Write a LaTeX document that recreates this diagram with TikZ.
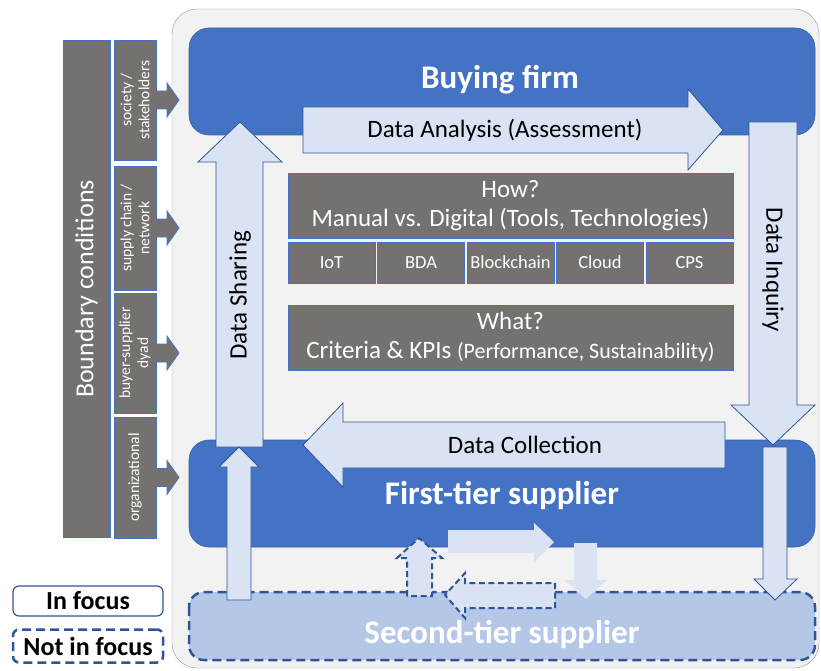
\documentclass[tikz,border=0pt]{standalone}
\usepackage{fontspec}
\setmainfont{Carlito}

\definecolor{firmblue}{HTML}{4472C4}
\definecolor{darkblue}{HTML}{2F5597}
\definecolor{arrowfill}{HTML}{DAE3F3}
\definecolor{tierfill}{HTML}{B4C7E7}
\definecolor{boxgrey}{HTML}{767171}
\definecolor{panel}{HTML}{F2F2F2}
\definecolor{panelline}{HTML}{8497B0}

\tikzset{
  tierbox/.style={fill=firmblue, draw=darkblue!60!firmblue, line width=0.6pt, rounded corners=20pt},
  notfocus/.style={draw=darkblue, line width=2.5pt, dash pattern=on 9pt off 5pt},
  greybox/.style={draw=firmblue, line width=0.8pt, fill=boxgrey, text=white, inner sep=0pt},
  flowarrow/.style={draw=darkblue, line width=0.8pt, fill=arrowfill},
  smallflow/.style={fill=arrowfill},
  smalldash/.style={fill=arrowfill, draw=darkblue, line width=2pt, dash pattern=on 6pt off 3.5pt},
  title/.style={text=white, font=\fontsize{33}{39}\selectfont\bfseries},
  flowtext/.style={font=\fontsize{25}{30}\selectfont},
  legend/.style={minimum width=150pt, rounded corners=6pt, fill=white,
    font=\fontsize{26}{31}\selectfont\bfseries, inner sep=0pt}
}

\begin{document}
\begin{tikzpicture}[x=1pt, y=-1pt]
  \useasboundingbox (0,0) rectangle (821,671);

  % Rahmen
  \draw[panelline, fill=panel, rounded corners=25pt] (172,9) rectangle (819,668);

  % Unternehmen
  \draw[tierbox] (189,28) rectangle (815,135);
  \draw[tierbox] (189,440) rectangle (815,547);
  \fill[tierfill, rounded corners=15pt] (189,592) rectangle (815,660);
  \draw[notfocus, rounded corners=15pt] (189,592) rectangle (815,660);
  \node[title] (firm) at (500,80) {Buying firm};
  \node[title] (tier1) at (502,495) {First-tier supplier};
  \node[title] (tier2) at (502,634) {Second-tier supplier};

  % Wie? / Was?
  \node[greybox, minimum width=445pt, minimum height=65pt, align=center,
    font=\fontsize{25}{29}\selectfont] (how) at (510.5,205.5)
    {How?\\Manual vs. Digital (Tools, Technologies)};
  \foreach \t [count=\i from 0] in {IoT,BDA,Blockchain,Cloud,CPS} {
      \node[greybox, minimum width=87pt, minimum height=41pt,
        font=\fontsize{18.5}{22}\selectfont] (tech\i) at (331.5+89.5*\i,262.5) {\t};
    }
  \node[greybox, minimum width=445pt, minimum height=65pt, align=center,
    font=\fontsize{25}{29}\selectfont] (what) at (510.5,337.5)
    {What?\\Criteria \& KPIs {\fontsize{22}{29}\selectfont(Performance, Sustainability)}};

  % Randbedingungen
  \node[greybox, rotate=90, minimum width=497pt, minimum height=47pt,
    font=\fontsize{26}{31}\selectfont] (bound) at (86.5,289) {Boundary conditions};
  \foreach \y/\h/\t in {100/120/{society /\\stakeholders},
                        228/124/{supply chain /\\network},
                        353/120/{buyer-supplier\\dyad},
                        477.5/121/{organizational}} {
      \node[greybox, rotate=90, minimum width=\h pt, minimum height=42pt, align=center,
        font=\fontsize{15.5}{18}\selectfont] at (135,\y) {\t};
      \fill[boxgrey] (155,\y-9) -- (167,\y-9) -- (167,\y-17) -- (179,\y)
        -- (167,\y+17) -- (167,\y+9) -- (155,\y+9) -- cycle;
      \draw[firmblue, line width=0.8pt] (156,\y-9) -- (167,\y-9) -- (167,\y-17) -- (179,\y)
        -- (167,\y+17) -- (167,\y+9) -- (156,\y+9);
    }

  % Legende
  \node[legend, draw=darkblue, line width=1.2pt, minimum height=30pt] (legin) at (88,601) {In focus};
  \node[legend, notfocus, minimum height=33pt] (legout) at (88,646) {Not in focus};

  % Datenfluss
  \draw[flowarrow] (303,107) -- (688,107) -- (688,89) -- (723,130)
    -- (688,170) -- (688,153) -- (303,153) -- cycle;
  \node[flowtext] (analysis) at (505,130) {Data Analysis (Assessment)};

  \draw[flowarrow] (749,122) -- (797,122) -- (797,405) -- (815,405)
    -- (773,445) -- (731,405) -- (749,405) -- cycle;
  \node[flowtext, rotate=-90] (inquiry) at (773,270) {Data Inquiry};
  \draw[flowarrow] (763,447) -- (787,447) -- (787,579) -- (797,579)
    -- (775,600) -- (754,579) -- (763,579) -- cycle;

  \draw[flowarrow] (725,422) -- (725,468) -- (343,468) -- (343,487)
    -- (303,445) -- (343,403) -- (343,422) -- cycle;
  \node[flowtext] (collection) at (525,445) {Data Collection};

  \draw[flowarrow] (216,447) -- (216,162) -- (198,162) -- (240,122)
    -- (282,162) -- (263,162) -- (263,447) -- cycle;
  \node[flowtext, rotate=90] (sharing) at (240,295) {Data Sharing};
  \draw[flowarrow] (227,600) -- (227,467) -- (219,467) -- (239,447)
    -- (259,467) -- (251,467) -- (251,600) -- cycle;

  % Fluss zum Zweitlieferanten
  \draw[smalldash] (407,596) -- (407,558) -- (397,558) -- (419,538)
    -- (442,558) -- (432,558) -- (432,596) -- cycle;
  \fill[smallflow] (448,530) -- (534,530) -- (534,523) -- (554,542)
    -- (534,562) -- (534,553) -- (448,553) -- cycle;
  \fill[smallflow] (574,543) -- (597,543) -- (597,580) -- (607,580)
    -- (586,599) -- (565,580) -- (574,580) -- cycle;
  \draw[smalldash] (555,583) -- (555,608) -- (465,608) -- (465,618)
    -- (445,595) -- (465,573) -- (465,583) -- cycle;

\end{tikzpicture}
\end{document}
